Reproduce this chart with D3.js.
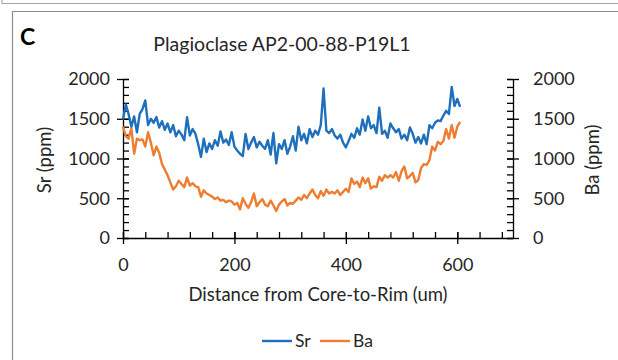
<!DOCTYPE html>
<html lang="en">
<head>
  <meta charset="UTF-8" />
  <title>Plagioclase AP2-00-88-P19L1</title>
  <script src="https://d3js.org/d3.v7.min.js"></script>
  <style>
    body { margin: 0; background: white; }
    svg { display: block; }
    text { font-family: Lato, "Open Sans", sans-serif; fill: #262626; }
  </style>
</head>
<body>
  <svg id="chart" width="618" height="360"></svg>
  <script>
    // distance along the traverse (um)
    const distance = [
      0, 5, 10, 15, 20, 25, 30, 35, 40, 45, 50, 55, 60, 65, 70, 75, 80, 85, 90, 95,
      100, 105, 110, 115, 120, 125, 130, 135, 140, 145, 150, 155, 160, 165, 170, 175, 180, 185, 190, 195,
      200, 205, 210, 215, 220, 225, 230, 235, 240, 245, 250, 255, 260, 265, 270, 275, 280, 285, 290, 295,
      300, 305, 310, 315, 320, 325, 330, 335, 340, 345, 350, 355, 360, 365, 370, 375, 380, 385, 390, 395,
      400, 405, 410, 415, 420, 425, 430, 435, 440, 445, 450, 455, 460, 465, 470, 475, 480, 485, 490, 495,
      500, 505, 510, 515, 520, 525, 530, 535, 540, 545, 550, 555, 560, 565, 570, 575, 580, 585, 590, 595,
      600, 605
    ];

    const sr = [
      1490, 1680, 1560, 1400, 1530, 1330, 1560, 1620, 1730, 1420, 1500, 1450, 1520, 1390, 1470, 1360, 1440, 1330, 1420, 1280,
      1350, 1300, 1230, 1520, 1290, 1370, 1310, 1180, 1020, 1250, 1080, 1190, 1120, 1230, 1160, 1340, 1200, 1240, 1170, 1330,
      1150, 1100, 1060, 1030, 1310, 1120, 1200, 1270, 1140, 1210, 1160, 1120, 1230, 1050, 1320, 940, 1180, 1120, 1230, 1060,
      1150, 1280, 1100, 1400, 1230, 1310, 1190, 1370, 1270, 1350, 1300, 1420, 1880, 1350, 1320, 1370, 1290, 1250, 1300, 1200,
      1140, 1220, 1310, 1260, 1380, 1300, 1490, 1350, 1530, 1380, 1420, 1320, 1640, 1310, 1350, 1260, 1440, 1380, 1330, 1370,
      1250, 1300, 1230, 1390, 1310, 1200, 1270, 1190, 1300, 1180, 1420, 1380, 1450, 1480, 1470, 1540, 1600, 1560, 1900, 1660,
      1750, 1650
    ];

    const ba = [
      1400, 1280, 1250, 1380, 1060, 1250, 1230, 1240, 1150, 1330, 1200, 1040, 1150, 1070, 930, 860, 790, 700, 610, 650,
      720, 680, 640, 760, 660, 690, 650, 640, 520, 600, 560, 540, 520, 490, 510, 470, 480, 450, 470, 460,
      420, 440, 360, 500, 430, 380, 450, 560, 400, 450, 490, 420, 400, 470, 410, 340, 420, 460, 490, 410,
      440, 430, 470, 510, 480, 540, 500, 560, 610, 540, 500, 590, 530, 610, 560, 580, 560, 600, 540, 580,
      620, 580, 750, 680, 710, 640, 760, 690, 750, 620, 650, 640, 770, 720, 790, 760, 790, 760, 830, 720,
      840, 900, 750, 780, 820, 700, 730, 880, 930, 920, 980, 1150, 1100, 1210, 1180, 1220, 1370, 1250, 1420, 1260,
      1400, 1460
    ];

    const xTicks = [0, 200, 400, 600];
    const yTicks = [0, 500, 1000, 1500, 2000];

    const svg = d3.select('#chart');
    const margin = { top: 79, right: 105, bottom: 122, left: 123 };
    const width = 618 - margin.left - margin.right;
    const height = 360 - margin.top - margin.bottom;

    // panel frame
    svg.append('path')
      .attr('d', 'M2,0V3.5H618')
      .attr('fill', 'none')
      .attr('stroke', '#a6a6a6')
      .attr('stroke-width', 1.2);
    svg.append('path')
      .attr('d', 'M12.5,360V11.5H618')
      .attr('fill', 'none')
      .attr('stroke', '#8c8c8c')
      .attr('stroke-width', 1.2);

    svg.append('text')
      .attr('x', 20)
      .attr('y', 45)
      .attr('font-size', 23)
      .attr('font-weight', 'bold')
      .style('fill', '#000')
      .text('C');

    svg.append('text')
      .attr('x', 282)
      .attr('y', 51)
      .attr('text-anchor', 'middle')
      .attr('font-size', 19.5)
      .text('Plagioclase AP2-00-88-P19L1');

    const g = svg.append('g')
      .attr('transform', `translate(${margin.left},${margin.top})`);

    const x = d3.scaleLinear().domain([0, 700]).range([0, width]);
    const y = d3.scaleLinear().domain([0, 2000]).range([height, 0]);
    const fmt = d3.format('d');

    // minor ticks (inside)
    g.append('g')
      .call(d3.axisBottom(x).tickValues(d3.range(0, 701, 40)).tickSize(-6).tickFormat(''))
      .attr('transform', `translate(0,${height})`)
      .call(a => a.select('.domain').remove());
    g.append('g')
      .call(d3.axisLeft(y).tickValues(d3.range(0, 2001, 100)).tickSize(-6).tickFormat(''))
      .call(a => a.select('.domain').remove());
    g.append('g')
      .attr('transform', `translate(${width},0)`)
      .call(d3.axisRight(y).tickValues(d3.range(0, 2001, 100)).tickSize(-6).tickFormat(''))
      .call(a => a.select('.domain').remove());

    // major ticks crossing the axis
    const xAxis = g.append('g')
      .attr('transform', `translate(0,${height})`)
      .call(d3.axisBottom(x).tickValues(xTicks).tickFormat(fmt).tickSizeInner(6).tickSizeOuter(0).tickPadding(14));
    xAxis.selectAll('.tick line').attr('y1', -6);

    const yAxis = g.append('g')
      .call(d3.axisLeft(y).tickValues(yTicks).tickFormat(fmt).tickSizeInner(6).tickSizeOuter(0).tickPadding(7));
    yAxis.selectAll('.tick line').attr('x1', 6);

    const yAxisR = g.append('g')
      .attr('transform', `translate(${width},0)`)
      .call(d3.axisRight(y).tickValues(yTicks).tickFormat(fmt).tickSizeInner(6).tickSizeOuter(0).tickPadding(14));
    yAxisR.selectAll('.tick line').attr('x1', -6);

    svg.selectAll('.tick line').attr('stroke', '#000').attr('stroke-width', 1.3);
    svg.selectAll('.domain').attr('stroke', '#000').attr('stroke-width', 1.3);
    svg.selectAll('.tick text')
      .attr('font-size', 18)
      .attr('font-family', 'Lato, sans-serif')
      .attr('fill', '#262626');

    const line = d3.line()
      .x((d, i) => x(distance[i]))
      .y(d => y(d));

    g.append('path')
      .datum(ba)
      .attr('fill', 'none')
      .attr('stroke', '#ed7d31')
      .attr('stroke-width', 2.4)
      .attr('stroke-linejoin', 'round')
      .attr('d', line);

    g.append('path')
      .datum(sr)
      .attr('fill', 'none')
      .attr('stroke', '#1f70bc')
      .attr('stroke-width', 2.4)
      .attr('stroke-linejoin', 'round')
      .attr('d', line);

    // axis titles
    svg.append('text')
      .attr('x', 318)
      .attr('y', 301)
      .attr('text-anchor', 'middle')
      .attr('font-size', 18.5)
      .text('Distance from Core-to-Rim (um)');

    svg.append('text')
      .attr('transform', 'translate(51,160) rotate(-90)')
      .attr('text-anchor', 'middle')
      .attr('font-size', 18.5)
      .text('Sr (ppm)');

    svg.append('text')
      .attr('transform', 'translate(599,160) rotate(-90)')
      .attr('text-anchor', 'middle')
      .attr('font-size', 18.5)
      .text('Ba (ppm)');

    // legend
    const legend = svg.append('g').attr('transform', 'translate(262,341)');
    const items = [
      { name: 'Sr', color: '#1f70bc', dx: 0 },
      { name: 'Ba', color: '#ed7d31', dx: 58 }
    ];
    items.forEach(it => {
      legend.append('line')
        .attr('x1', it.dx).attr('x2', it.dx + 30)
        .attr('y1', 0).attr('y2', 0)
        .attr('stroke', it.color)
        .attr('stroke-width', 2.4);
      legend.append('text')
        .attr('x', it.dx + 33)
        .attr('y', 6)
        .attr('font-size', 17.5)
        .text(it.name);
    });
  </script>
</body>
</html>
